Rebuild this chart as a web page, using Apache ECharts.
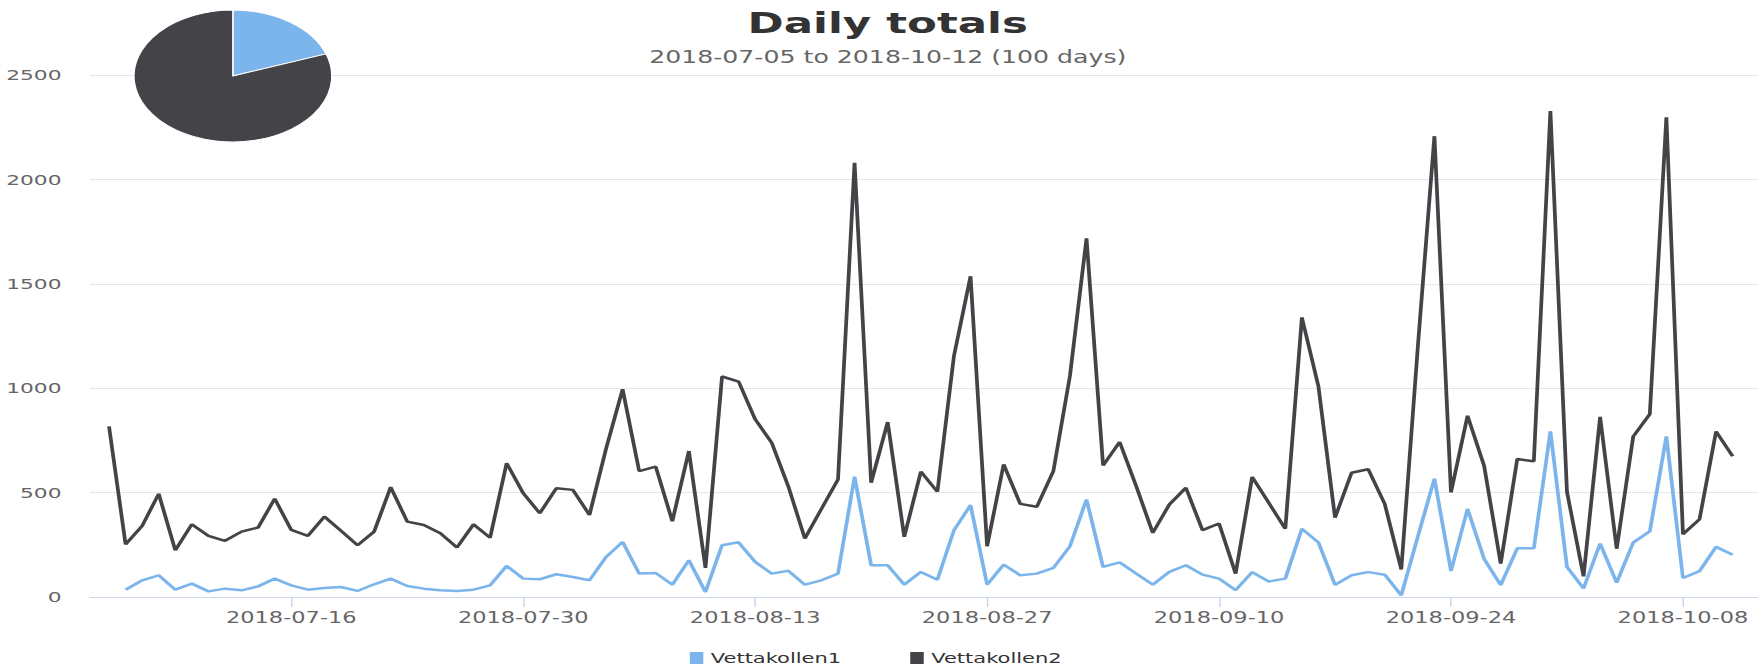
<!DOCTYPE html>
<html>
<head>
<meta charset="utf-8">
<script src="https://cdn.jsdelivr.net/npm/echarts@6/dist/echarts.min.js"></script>
<style>
  html, body { margin: 0; padding: 0; background: #ffffff; overflow: hidden; width: 1762px; height: 667px; }
  #chart { position: absolute; left: 0; top: 0; width: 1175px; height: 667px; transform-origin: 0 0; transform: scaleX(1.49957); }
</style>
</head>
<body>
<div id="chart"></div>
<script>
const dates = [
  '2018-07-05','2018-07-06','2018-07-07','2018-07-08','2018-07-09','2018-07-10','2018-07-11','2018-07-12','2018-07-13','2018-07-14',
  '2018-07-15','2018-07-16','2018-07-17','2018-07-18','2018-07-19','2018-07-20','2018-07-21','2018-07-22','2018-07-23','2018-07-24',
  '2018-07-25','2018-07-26','2018-07-27','2018-07-28','2018-07-29','2018-07-30','2018-07-31','2018-08-01','2018-08-02','2018-08-03',
  '2018-08-04','2018-08-05','2018-08-06','2018-08-07','2018-08-08','2018-08-09','2018-08-10','2018-08-11','2018-08-12','2018-08-13',
  '2018-08-14','2018-08-15','2018-08-16','2018-08-17','2018-08-18','2018-08-19','2018-08-20','2018-08-21','2018-08-22','2018-08-23',
  '2018-08-24','2018-08-25','2018-08-26','2018-08-27','2018-08-28','2018-08-29','2018-08-30','2018-08-31','2018-09-01','2018-09-02',
  '2018-09-03','2018-09-04','2018-09-05','2018-09-06','2018-09-07','2018-09-08','2018-09-09','2018-09-10','2018-09-11','2018-09-12',
  '2018-09-13','2018-09-14','2018-09-15','2018-09-16','2018-09-17','2018-09-18','2018-09-19','2018-09-20','2018-09-21','2018-09-22',
  '2018-09-23','2018-09-24','2018-09-25','2018-09-26','2018-09-27','2018-09-28','2018-09-29','2018-09-30','2018-10-01','2018-10-02',
  '2018-10-03','2018-10-04','2018-10-05','2018-10-06','2018-10-07','2018-10-08','2018-10-09','2018-10-10','2018-10-11'
];

const vettakollen1 = [
  null,35,80,104,35,64,27,40,32,51,
  88,56,35,43,48,29,61,88,53,40,
  32,29,35,56,149,88,85,109,96,80,
  192,264,112,115,59,176,24,248,262,168,
  112,126,59,80,112,576,152,152,59,120,
  83,320,440,59,155,104,112,139,243,467,
  144,166,112,59,120,152,107,88,33,119,
  74,88,327,261,58,104,119,107,8,290,
  567,124,422,182,57,233,233,793,144,41,
  256,69,261,314,769,91,124,240,202
];

const vettakollen2 = [
  817,252,341,494,224,348,293,269,313,333,
  471,321,293,385,317,248,313,526,361,345,
  305,237,348,284,641,497,401,521,513,393,
  710,995,603,624,363,699,139,1056,1032,851,
  739,530,280,422,563,2080,547,838,288,600,
  504,1155,1536,243,635,446,432,603,1059,1718,
  630,742,531,307,443,523,320,352,112,575,
  451,327,1339,1008,380,595,612,446,132,1200,
  2207,501,868,628,160,661,650,2327,504,99,
  863,231,769,876,2298,301,372,793,674
];

const tickLabels = ['2018-07-16','2018-07-30','2018-08-13','2018-08-27','2018-09-10','2018-09-24','2018-10-08'];
const yTicks = [0, 500, 1000, 1500, 2000, 2500];
const seriesNames = ['Vettakollen1', 'Vettakollen2'];
const colors = ['#7cb5ec', '#434348'];
const titleText = 'Daily totals';
const subtitleText = '2018-07-05 to 2018-10-12 (100 days)';

const FONT = 'DejaVu Sans';
const toPairs = arr => arr.map((v, i) => [i, v]);
const sum = arr => arr.reduce((a, v) => a + (v == null ? 0 : v), 0);
const tickPositions = tickLabels.map(l => dates.indexOf(l));

const chart = echarts.init(document.getElementById('chart'), null, { renderer: 'svg' });
chart.setOption({
  animation: false,
  backgroundColor: '#ffffff',
  color: colors,
  title: {
    text: titleText,
    subtext: subtitleText,
    left: 592,
    textAlign: 'center',
    top: 9,
    padding: 0,
    itemGap: 11,
    textStyle: { fontFamily: FONT, fontSize: 29, fontWeight: 'bold', color: '#333333' },
    subtextStyle: { fontFamily: FONT, fontSize: 16.8, color: '#666666' }
  },
  legend: {
    data: seriesNames,
    left: 460,
    top: 651,
    padding: 0,
    icon: 'rect',
    itemWidth: 9,
    itemHeight: 12,
    itemGap: 46,
    textStyle: { fontFamily: FONT, fontSize: 14, color: '#333333' }
  },
  grid: { left: 60, right: 3, top: 75, bottom: 70, containLabel: false },
  xAxis: {
    type: 'value',
    min: -1.15,
    max: 99.5,
    splitLine: { show: false },
    axisLine: { show: true, lineStyle: { color: '#ccd6eb', width: 1 } },
    axisTick: { show: true, length: 10, lineStyle: { color: '#ccd6eb' }, customValues: tickPositions },
    axisLabel: {
      show: true,
      customValues: tickPositions,
      formatter: v => dates[Math.round(v)],
      margin: 13,
      fontFamily: FONT,
      fontSize: 15,
      color: '#666666'
    }
  },
  yAxis: {
    type: 'value',
    min: yTicks[0],
    max: yTicks[yTicks.length - 1],
    interval: 500,
    axisLine: { show: false },
    axisTick: { show: false },
    splitLine: { show: true, lineStyle: { color: '#e6e6e6', width: 1 } },
    axisLabel: { margin: 19, fontFamily: FONT, fontSize: 14.5, color: '#666666', formatter: v => String(v) }
  },
  series: [
    {
      name: seriesNames[0],
      type: 'line',
      data: toPairs(vettakollen1),
      showSymbol: false,
      symbol: 'none',
      connectNulls: false,
      lineStyle: { color: colors[0], width: 2.5 },
      itemStyle: { color: colors[0] },
      z: 3
    },
    {
      name: seriesNames[1],
      type: 'line',
      data: toPairs(vettakollen2),
      showSymbol: false,
      symbol: 'none',
      lineStyle: { color: colors[1], width: 2.5 },
      itemStyle: { color: colors[1] },
      z: 2
    },
    {
      type: 'pie',
      center: [155.3, 76],
      radius: 66,
      startAngle: 90,
      clockwise: true,
      label: { show: false },
      labelLine: { show: false },
      emphasis: { disabled: true },
      itemStyle: { borderColor: '#ffffff', borderWidth: 1 },
      data: [
        { name: seriesNames[0], value: sum(vettakollen1), itemStyle: { color: colors[0] } },
        { name: seriesNames[1], value: sum(vettakollen2), itemStyle: { color: colors[1] } }
      ],
      z: 4
    }
  ]
});
</script>
</body>
</html>
